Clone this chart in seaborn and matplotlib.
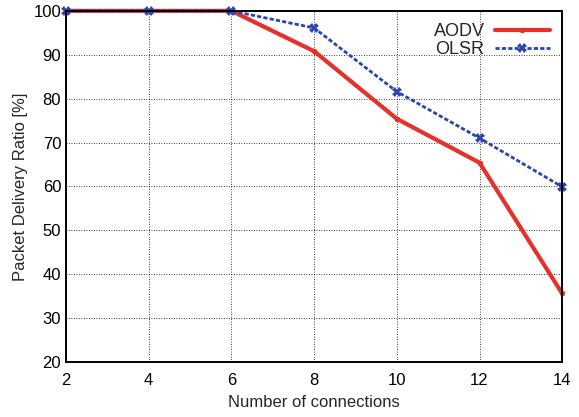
import matplotlib
matplotlib.use("Agg")
import matplotlib.pyplot as plt
import seaborn as sns
import pandas as pd

connections = [2, 4, 6, 8, 10, 12, 14]
aodv = [100, 100, 100, 90.8, 75.4, 65.4, 35.6]
olsr = [100, 100, 100, 96.1, 81.6, 71.0, 59.9]

sns.set_style("white")
plt.rcParams['font.family'] = ['Liberation Sans', 'DejaVu Sans']

df = pd.DataFrame({
    "conn": connections * 2,
    "pdr": aodv + olsr,
    "proto": ["AODV"] * len(aodv) + ["OLSR"] * len(olsr),
})

fig = plt.figure(figsize=(5.79, 4.17), dpi=100)
ax = fig.add_axes([0.114, 0.132, 0.857, 0.842])

sns.lineplot(data=df[df.proto == "AODV"], x="conn", y="pdr", ax=ax,
             color="#e8302a", lw=3, marker="o", markersize=4,
             markeredgewidth=0, label="AODV", clip_on=False)
sns.lineplot(data=df[df.proto == "OLSR"], x="conn", y="pdr", ax=ax,
             color="#2b44b0", lw=2, ls=(0, (1.5, 0.8)), marker="X", markersize=7,
             markeredgewidth=0, label="OLSR", clip_on=False)

ax.set_xlim(2, 14)
ax.set_ylim(20, 100)
ax.set_xticks(connections)
ax.set_yticks(range(20, 101, 10))
ax.grid(True, color="black", ls=(0, (1, 2)), lw=0.6)
ax.tick_params(direction="in", length=4, labelsize=12, colors="black", width=0.8)
ax.tick_params(axis="x", pad=8)
for s in ax.spines.values():
    s.set_color("black")
    s.set_linewidth(1.4)
ax.set_xlabel("Number of connections", fontsize=12, labelpad=5)
ax.set_ylabel("Packet Delivery Ratio [%]", fontsize=12)
leg = ax.legend(loc="upper right", frameon=False, markerfirst=False, fontsize=13,
                handlelength=3, labelspacing=0.05, borderaxespad=0.3, handletextpad=0.6)
fig.savefig("out.png", dpi=100)
